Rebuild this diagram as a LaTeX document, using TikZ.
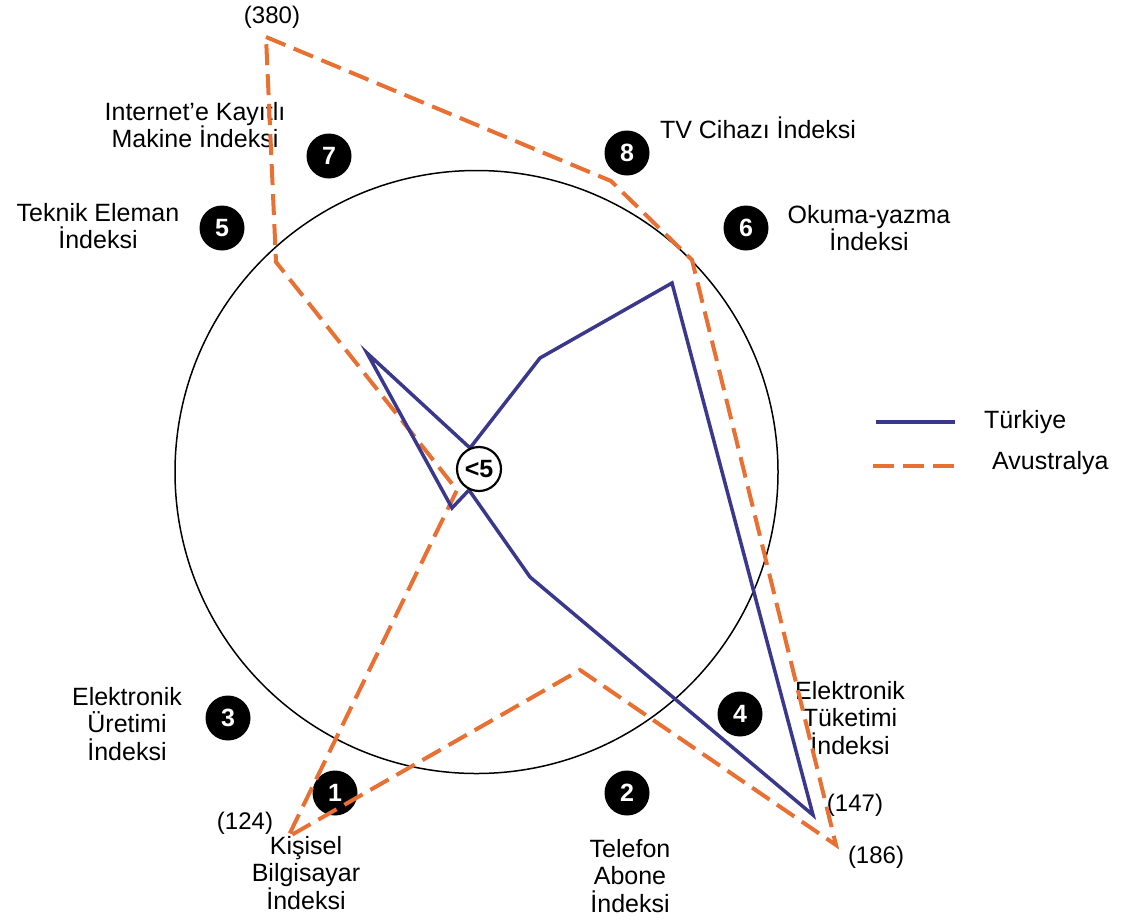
\documentclass[tikz,border=0pt]{standalone}
\usepackage{fontspec}
\setmainfont{Liberation Sans}
\usetikzlibrary{positioning}

\definecolor{trblue}{RGB}{58,56,140}
\definecolor{auorange}{RGB}{232,112,50}

\begin{document}
\begin{tikzpicture}[
  x=1pt, y=-1pt,
  font=\fontsize{25}{27.5}\selectfont,
  lbl/.style={align=center, inner sep=0pt},
  num/.style={circle, fill=black, text=white, minimum size=45pt, inner sep=0pt, font=\fontsize{25}{25}\selectfont\bfseries},
  val/.style={inner sep=0pt, font=\fontsize{24}{24}\selectfont},
  tr/.style={trblue, line width=3.5pt},
  au/.style={auorange, line width=4pt, dash pattern=on 21pt off 9pt}
]
\useasboundingbox (0,0) rectangle (1123,919);
\draw[line width=1.5pt] (476.5,472) circle (301.5);
% axis numbers
\node[num] (n1) at (335,793) {1};
\node[num] (n2) at (627,793) {2};
\node[num] (n3) at (228,718) {3};
\node[num] (n4) at (740,714) {4};
\node[num] (n5) at (222,228) {5};
\node[num] (n6) at (746,228) {6};
\node[num] (n7) at (329,156) {7};
\node[num] (n8) at (627,153) {8};
% axis labels
\node[lbl] (l1) at (306,873) {Kişisel\\Bilgisayar\\İndeksi};
\node[lbl] (l2) at (630,876) {Telefon\\Abone\\İndeksi};
\node[lbl] (l3) at (127,724) {Elektronik\\Üretimi\\İndeksi};
\node[lbl] (l4) at (850,718) {Elektronik\\Tüketimi\\İndeksi};
\node[lbl] (l5) at (98,226) {Teknik Eleman\\İndeksi};
\node[lbl] (l6) at (869,228) {Okuma-yazma\\İndeksi};
\node[lbl] (l7) at (195,125) {Internet’e Kayıtlı\\Makine İndeksi};
\node[lbl] (l8) at (758,128) {TV Cihazı İndeksi};
% values out of scale
\node[val] (v380) at (272,17) {(380)};
\node[val] (v124) at (245,823) {(124)};
\node[val] (v147) at (855,805) {(147)};
\node[val] (v186) at (876,857) {(186)};
% data
\draw[au] (266,37) -- (611,181) -- (692,260) -- (836,845) -- (580,670)
  -- (288,837) -- (457,490) -- (276,262) -- cycle;
\draw[tr] (367,353) -- (470,448) -- (540,358) -- (672,283) -- (813,815)
  -- (530,577) -- (469,490) -- (452,508) -- cycle;
\node[circle, draw, line width=2.2pt, fill=white, minimum size=44pt, inner sep=0pt, font=\fontsize{25}{25}\selectfont\bfseries] (low) at (479,469) {<5};
% legend
\coordinate (tra) at (876,422);
\coordinate (trb) at (955,422);
\coordinate (aua) at (873,466);
\coordinate (aub) at (958,466);
\draw[tr] (tra) -- (trb);
\draw[au] (aua) -- (aub);
\node[lbl, anchor=west] (ltr) at (984,422) {Türkiye};
\node[lbl, anchor=west] (lau) at (992,463) {Avustralya};
\end{tikzpicture}
\end{document}
